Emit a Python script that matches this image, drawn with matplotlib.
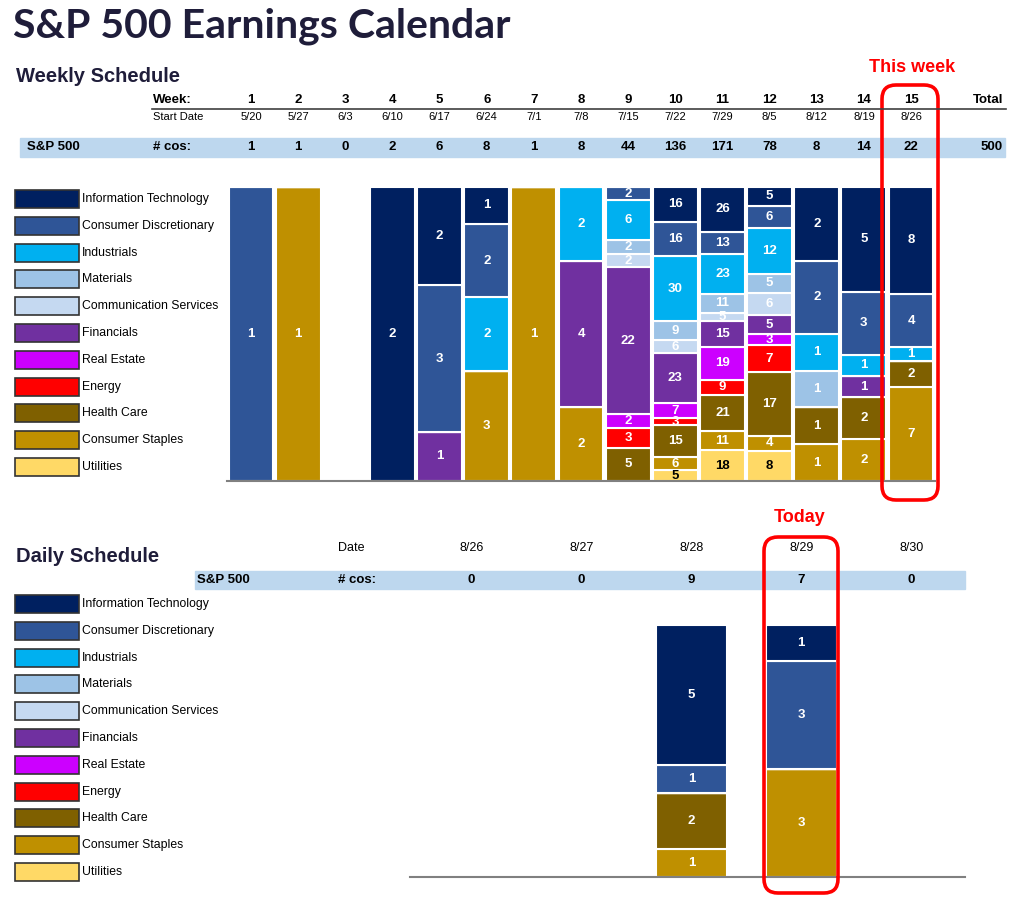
import numpy as np
import matplotlib.pyplot as plt
from matplotlib.patches import Rectangle, FancyBboxPatch
from matplotlib.transforms import blended_transform_factory

# sectors, top of the stack first
sectors = ["Information Technology", "Consumer Discretionary", "Industrials", "Materials",
           "Communication Services", "Financials", "Real Estate", "Energy", "Health Care",
           "Consumer Staples", "Utilities"]
colors = ["#002060", "#2F5597", "#00B0F0", "#9DC3E6", "#C5D9F1", "#7030A0", "#CC00FF",
          "#FF0000", "#7F6000", "#BF9000", "#FFD966"]

weeks = list(range(1, 16))
start_dates = ["5/20", "5/27", "6/3", "6/10", "6/17", "6/24", "7/1", "7/8", "7/15",
               "7/22", "7/29", "8/5", "8/12", "8/19", "8/26"]

# weekly number of reporting companies per sector (weeks 1..15)
w_it     = [0, 0, 0, 2, 2, 1, 0, 0, 0, 16, 26, 5, 2, 5, 8]
w_cd     = [1, 0, 0, 0, 3, 2, 0, 0, 2, 16, 13, 6, 2, 3, 4]
w_ind    = [0, 0, 0, 0, 0, 2, 0, 2, 6, 30, 23, 12, 1, 1, 1]
w_mat    = [0, 0, 0, 0, 0, 0, 0, 0, 2, 9, 11, 5, 1, 0, 0]
w_comm   = [0, 0, 0, 0, 0, 0, 0, 0, 2, 6, 5, 6, 0, 0, 0]
w_fin    = [0, 0, 0, 0, 1, 0, 0, 4, 22, 23, 15, 5, 0, 1, 0]
w_re     = [0, 0, 0, 0, 0, 0, 0, 0, 2, 7, 19, 3, 0, 0, 0]
w_energy = [0, 0, 0, 0, 0, 0, 0, 0, 3, 3, 9, 7, 0, 0, 0]
w_hc     = [0, 0, 0, 0, 0, 0, 0, 0, 5, 15, 21, 17, 1, 2, 2]
w_cs     = [0, 1, 0, 0, 0, 3, 1, 2, 0, 6, 11, 4, 1, 2, 7]
w_util   = [0, 0, 0, 0, 0, 0, 0, 0, 0, 5, 18, 8, 0, 0, 0]

days = ["8/26", "8/27", "8/28", "8/29", "8/30"]
d_it     = [0, 0, 5, 1, 0]
d_cd     = [0, 0, 1, 3, 0]
d_ind    = [0, 0, 0, 0, 0]
d_mat    = [0, 0, 0, 0, 0]
d_comm   = [0, 0, 0, 0, 0]
d_fin    = [0, 0, 0, 0, 0]
d_re     = [0, 0, 0, 0, 0]
d_energy = [0, 0, 0, 0, 0]
d_hc     = [0, 0, 2, 0, 0]
d_cs     = [0, 0, 1, 3, 0]
d_util   = [0, 0, 0, 0, 0]

weekly = np.array([w_it, w_cd, w_ind, w_mat, w_comm, w_fin, w_re, w_energy, w_hc, w_cs, w_util])
daily = np.array([d_it, d_cd, d_ind, d_mat, d_comm, d_fin, d_re, d_energy, d_hc, d_cs, d_util])

SANS = ["Liberation Sans", "DejaVu Sans"]
NAVY = "#1F1D3A"
W, H = 1024, 901

fig = plt.figure(figsize=(W / 100, H / 100), dpi=100)


def stacked(ax, data, width, fs):
    n = data.shape[1]
    x = np.arange(n)
    tot = data.sum(axis=0)
    share = np.divide(data, tot, out=np.zeros(data.shape), where=tot > 0)
    bottom = np.zeros(n)
    for k in range(len(sectors) - 1, -1, -1):   # utilities at the bottom
        ax.bar(x, share[k], width, bottom=bottom, color=colors[k],
               edgecolor="white", linewidth=1.5)
        for i in range(n):
            if data[k, i] > 0:
                ax.text(x[i], bottom[i] + share[k, i] / 2, str(data[k, i]),
                        ha="center", va="center", fontsize=fs, fontweight="bold",
                        color="black" if k == len(sectors) - 1 else "white",
                        family=SANS)
        bottom += share[k]
    ax.set_ylim(0, 1)
    for s in ["top", "left", "right"]:
        ax.spines[s].set_visible(False)
    ax.spines["bottom"].set_color("#808080")
    ax.spines["bottom"].set_linewidth(1.5)
    ax.set_xticks([])
    ax.set_yticks([])


# weekly chart
ax_w = fig.add_axes([227.4 / W, 1 - 481 / H, 707.2 / W, 294 / H])
stacked(ax_w, weekly, 0.95, 9.5)
ax_w.set_xlim(-0.5, len(weeks) - 0.5)

# daily chart
ax_d = fig.add_axes([410 / W, 1 - 877 / H, 555 / W, 252 / H])
stacked(ax_d, daily, 0.65, 9.5)
ax_d.set_xlim(-0.56, 4.49)

# overlay in pixel coordinates for the tables, legends and call-outs
ov = fig.add_axes([0, 0, 1, 1])
ov.set_xlim(0, W)
ov.set_ylim(H, 0)
ov.axis("off")

ov.text(13, 26, "S&P 500 Earnings Calendar", fontsize=29.5, fontweight="bold",
        color=NAVY, family=["Lato", "DejaVu Sans"], va="center", ha="left")
ov.text(16, 76, "Weekly Schedule", fontsize=14.5, fontweight="bold", color=NAVY,
        family=SANS, va="center")
ov.text(16, 556, "Daily Schedule", fontsize=14.5, fontweight="bold", color=NAVY,
        family=SANS, va="center")

# weekly table
tw = blended_transform_factory(ax_w.transData, ov.transData)
ov.add_patch(Rectangle((20, 138), 985, 19, color="#BDD7EE", zorder=0))
ov.plot([152, 1006], [108.5, 108.5], color="#404040", lw=1.2)
ov.text(153, 100, "Week:", fontsize=9.5, fontweight="bold", family=SANS, va="center")
ov.text(153, 117, "Start Date", fontsize=8, family=SANS, va="center")
ov.text(27, 147, "S&P 500", fontsize=9.5, fontweight="bold", family=SANS, va="center")
ov.text(153, 147, "# cos:", fontsize=9.5, fontweight="bold", family=SANS, va="center")
w_tot = weekly.sum(axis=0)
for i, wk in enumerate(weeks):
    ov.text(i, 100, str(wk), transform=tw, ha="center", va="center", fontsize=9.5,
            fontweight="bold", family=SANS)
    ov.text(i, 117, start_dates[i], transform=tw, ha="center", va="center",
            fontsize=8, family=SANS)
    ov.text(i, 147, str(w_tot[i]), transform=tw, ha="center", va="center",
            fontsize=9.5, fontweight="bold", family=SANS)
ov.text(1003, 100, "Total", ha="right", va="center", fontsize=9.5, fontweight="bold",
        family=SANS)
ov.text(1003, 147, str(w_tot.sum()), ha="right", va="center", fontsize=9.5,
        fontweight="bold", family=SANS)

# daily table
td = blended_transform_factory(ax_d.transData, ov.transData)
ov.add_patch(Rectangle((195, 571), 770, 18, color="#BDD7EE", zorder=0))
ov.text(338, 548, "Date", fontsize=9, family=SANS, va="center")
ov.text(197, 580, "S&P 500", fontsize=9.5, fontweight="bold", family=SANS, va="center")
ov.text(338, 580, "# cos:", fontsize=9.5, fontweight="bold", family=SANS, va="center")
d_tot = daily.sum(axis=0)
for i, d in enumerate(days):
    ov.text(i, 548, d, transform=td, ha="center", va="center", fontsize=9, family=SANS)
    ov.text(i, 580, str(d_tot[i]), transform=td, ha="center", va="center",
            fontsize=9.5, fontweight="bold", family=SANS)

# legends
for top in (199, 604):
    for k, name in enumerate(sectors):
        y = top + k * 26.8
        ov.add_patch(Rectangle((15, y - 9), 64, 18, facecolor=colors[k],
                               edgecolor="#333333", lw=1.2))
        ov.text(82, y, name, fontsize=8.8, family=SANS, va="center")

# call-outs
RED = "#FF0000"
ov.add_patch(FancyBboxPatch((882, 85), 56, 415, boxstyle="round,pad=0,rounding_size=14",
                            fill=False, edgecolor=RED, lw=2.6))
ov.text(912, 67, "This week", color=RED, fontsize=13, fontweight="bold",
        family=SANS, ha="center", va="center")
ov.add_patch(FancyBboxPatch((764, 537), 74, 356, boxstyle="round,pad=0,rounding_size=14",
                            fill=False, edgecolor=RED, lw=2.6))
ov.text(800, 517, "Today", color=RED, fontsize=13, fontweight="bold",
        family=SANS, ha="center", va="center")

fig.savefig("out.png", dpi=100)
